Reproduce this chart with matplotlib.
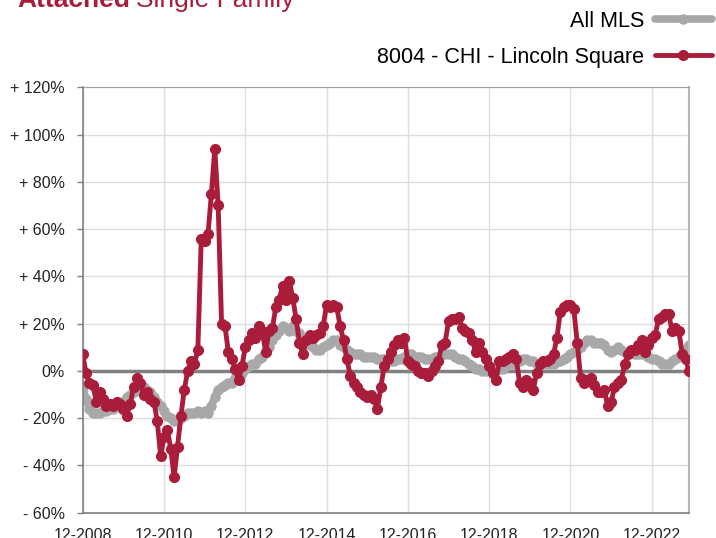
import numpy as np
import matplotlib
matplotlib.use('Agg')
import matplotlib.pyplot as plt

plt.rcParams['font.family'] = ['Liberation Sans', 'DejaVu Sans']

# monthly series, 12-2008 .. 11-2023 (year-over-year change, %)
all_mls = [-7, -12, -16, -18, -18, -18, -17, -17, -16, -16, -15, -14,
           -13, -11, -10, -9, -8, -7, -7, -8, -9, -11, -13, -15,
           -17, -19, -20, -21, -21, -20, -19, -18, -18, -18, -17, -18,
           -17, -18, -15, -11, -8, -7, -6, -5, -5, -3, -2, -1,
           1, 2, 3, 3, 5, 6, 8, 10, 13, 15, 17, 19,
           18, 17, 19, 17, 16, 14, 12, 11, 10, 9, 9, 10,
           11, 12, 13, 13, 11, 10, 9, 8, 7, 7, 7, 6,
           6, 6, 6, 5, 5, 5, 4, 4, 4, 5, 5, 6,
           7, 7, 6, 6, 6, 5, 5, 5, 6, 6, 7, 7,
           7, 7, 6, 5, 5, 4, 3, 2, 1, 1, 0, 0,
           1, 1, 1, 1, 1, 2, 3, 3, 4, 4, 5, 5,
           4, 4, 3, 3, 3, 3, 3, 3, 4, 4, 5, 6,
           7, 8, 9, 10, 12, 13, 13, 12, 12, 12, 11, 9,
           8, 9, 10, 9, 8, 8, 8, 7, 7, 7, 7, 6,
           5, 5, 4, 3, 3, 3, 4, 5, 6, 7, 9, 11]

lincoln_sq = [7, -1, -5, -6, -13, -9, -12, -15, -14, -15, -13, -14,
              -16, -19, -14, -7, -3, -5, -10, -9, -12, -13, -21, -36,
              -28, -25, -33, -45, -32, -19, -8, 0, 4, 3, 9, 56,
              55, 58, 75, 94, 70, 20, 19, 8, 5, 1, -4, 2,
              10, 13, 16, 14, 19, 17, 8, 17, 18, 27, 30, 36,
              30, 38, 31, 22, 12, 7, 13, 15, 14, 15, 16, 19,
              28, 27, 28, 27, 19, 13, 5, -2, -5, -7, -9, -10,
              -11, -10, -12, -16, -7, 2, 5, 8, 11, 13, 12, 14,
              4, 3, 2, 0, -1, -1, -2, 0, 2, 4, 11, 12,
              21, 22, 22, 23, 18, 17, 16, 13, 8, 12, 8, 5,
              2, -1, -4, 4, 4, 5, 6, 7, 5, -5, -7, -4,
              -5, -8, -1, 3, 4, 4, 5, 7, 14, 25, 27, 28,
              28, 26, 12, -3, -5, -4, -3, -6, -9, -9, -8, -15,
              -13, -7, -5, -4, 3, 7, 9, 9, 11, 13, 8, 11,
              14, 15, 22, 23, 24, 24, 17, 18, 17, 7, 5, 0]

tick_labels = ['12-2008', '12-2010', '12-2012', '12-2014',
               '12-2016', '12-2018', '12-2020', '12-2022']
y_ticks = [-60, -40, -20, 0, 20, 40, 60, 80, 100, 120]

months = np.arange(len(all_mls))
red = '#AA1D3A'
grey = '#A8A8A8'

fig = plt.figure(figsize=(7.16, 5.38), dpi=100)
ax = fig.add_axes([82.7 / 716, 1 - 512.7 / 538, (689 - 82.7) / 716, (512.7 - 87.3) / 538])

ax.axhline(0, color='#808080', lw=2.5, zorder=1)
l1, = ax.plot(months, all_mls, color=grey, lw=5.5, marker='o', ms=6.5,
              solid_capstyle='round', zorder=2, label='All MLS')
l2, = ax.plot(months, lincoln_sq, color=red, lw=3.5, marker='o', ms=7,
              solid_capstyle='round', zorder=3, label='8004 - CHI - Lincoln Square')

ax.set_xlim(0, len(all_mls) - 1)
ax.set_ylim(-60, 120)
ax.set_xticks(np.arange(0, len(all_mls), 24))
ax.set_xticklabels(tick_labels)
ax.set_yticks(y_ticks)
ax.set_yticklabels([('+ %d%%' % v) if v > 0 else ('- %d%%' % -v if v < 0 else '0%') for v in y_ticks])
ax.tick_params(axis='x', length=0, pad=11, labelsize=11.5, colors='#222222')
ax.tick_params(axis='y', length=4, width=1, color='#808080', pad=9, labelsize=11.5, labelcolor='#222222')
ax.grid(True, color='#dddddd', lw=1, zorder=0)
ax.set_axisbelow(True)

for side in ['left', 'bottom']:
    ax.spines[side].set_color('#808080')
    ax.spines[side].set_linewidth(1.2)
ax.spines['top'].set_color('#a0a0a0')
ax.spines['right'].set_color('#b8b8b8')
ax.spines['right'].set_linewidth(1.5)

fig.legend(handles=[l1, l2], loc='upper right', bbox_to_anchor=(712 / 716, 1 - 11 / 538),
           frameon=False, markerfirst=False, fontsize=15.5, handlelength=2.65,
           handletextpad=0.5, labelspacing=0.68, borderpad=0, borderaxespad=0, numpoints=1)

# title, cut off at the top like the reference
t1 = fig.text(17 / 716, 1 - 7 / 538, 'Attached', color=red, fontsize=19, fontweight='bold', va='baseline')
fig.canvas.draw()
bb = t1.get_window_extent()
fig.text((bb.x1 + 6) / 716, 1 - 7 / 538, 'Single Family', color=red, fontsize=19, va='baseline')

fig.savefig('out.png', dpi=100)
